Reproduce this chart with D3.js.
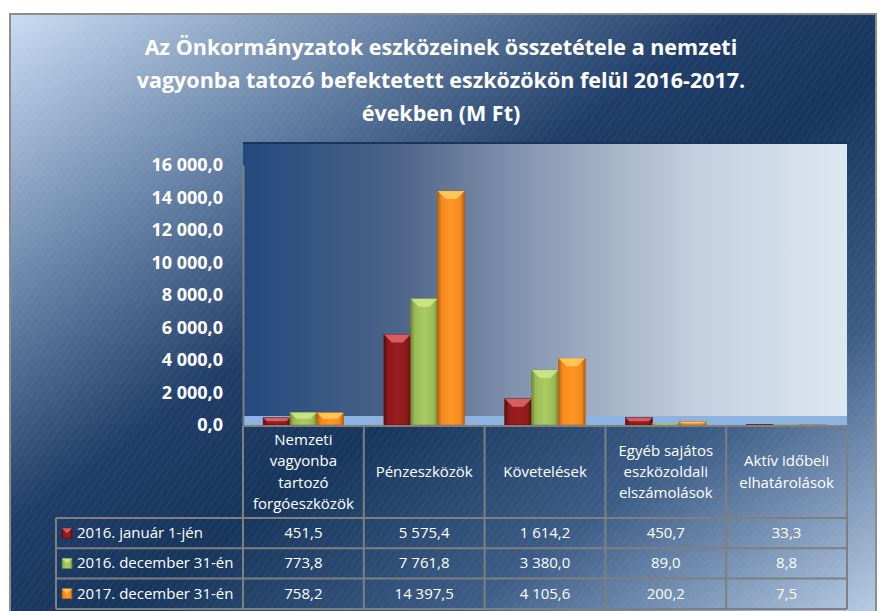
<!DOCTYPE html>
<html>
<head>
<meta charset="utf-8">
<script src="https://cdn.jsdelivr.net/npm/d3@7"></script>
<style>
  body { margin: 0; background: #fff; }
  svg { display: block; font-family: "Open Sans", Lato, sans-serif; }
</style>
</head>
<body>
<div id="chart"></div>
<script>
// data
const categories = [
    ['Nemzeti', 'vagyonba', 'tartozó', 'forgóeszközök'],
    ['Pénzeszközök'],
    ['Követelések'],
    ['Egyéb sajátos', 'eszközoldali', 'elszámolások'],
    ['Aktív időbeli', 'elhatárolások']
]
const seriesNames = ['2016. január 1-jén', '2016. december 31-én', '2017. december 31-én']
const jan2016 = [451.5, 5575.4, 1614.2, 450.7, 33.3]
const dec2016 = [773.8, 7761.8, 3380.0, 89.0, 8.8]
const dec2017 = [758.2, 14397.5, 4105.6, 200.2, 7.5]
const yTicks = [0, 2000, 4000, 6000, 8000, 10000, 12000, 14000, 16000]
const titleLines = [
    'Az Önkormányzatok eszközeinek összetétele a nemzeti',
    'vagyonba tatozó befektetett eszközökön felül 2016-2017.',
    'években (M Ft)'
]

const series = [jan2016, dec2016, dec2017]
const colors = [
    { base: '#8e1b1b', dark: '#5e0c0c', light: '#e06a72' },
    { base: '#9bbb59', dark: '#6f8b35', light: '#cfe889' },
    { base: '#f58a1f', dark: '#b85e0c', light: '#ffd060' }
]

const W = 880, H = 611
const plot = { left: 243, right: 847, top: 143, floor: 416, base: 425 }
const table = { left: 56, headTop: 426, headBottom: 518, rowH: 30.3 }

const fmt = v => {
    let s = d3.format(',.1f')(v)
    return s.replace(/,/g, ' ').replace('.', ',')
}

const svg = d3.select('#chart').append('svg')
    .attr('width', W)
    .attr('height', H)

const defs = svg.append('defs')

// chart background gradient
let bg = defs.append('linearGradient').attr('id', 'bg')
    .attr('x1', 0).attr('y1', 0).attr('x2', 1).attr('y2', 1)
bg.selectAll('stop')
    .data([[0, '#c9dcf3'], [0.22, '#6d88ab'], [0.42, '#1f3d68'], [0.55, '#17365d'], [0.75, '#3d5d87'], [1, '#bcd0e8']])
    .join('stop')
    .attr('offset', d => d[0])
    .attr('stop-color', d => d[1])

// fine diagonal stripes
let pat = defs.append('pattern').attr('id', 'stripes')
    .attr('width', 6).attr('height', 6)
    .attr('patternUnits', 'userSpaceOnUse')
    .attr('patternTransform', 'rotate(35)')
pat.append('line')
    .attr('x1', 0).attr('y1', 0).attr('x2', 0).attr('y2', 6)
    .attr('stroke', '#ffffff').attr('stroke-opacity', 0.05).attr('stroke-width', 2)

// plot area gradient (dark left -> light right)
let pg = defs.append('linearGradient').attr('id', 'plotbg')
    .attr('x1', 0).attr('y1', 0).attr('x2', 1).attr('y2', 0)
pg.selectAll('stop')
    .data([[0, '#234a7e'], [0.25, '#4b6388'], [0.5, '#8d9db6'], [0.75, '#c4d0df'], [1, '#dde7f2']])
    .join('stop')
    .attr('offset', d => d[0])
    .attr('stop-color', d => d[1])

// bar gradients
colors.forEach((c, i) => {
    let g = defs.append('linearGradient').attr('id', 'bar' + i)
        .attr('x1', 0).attr('y1', 0).attr('x2', 1).attr('y2', 0)
    g.append('stop').attr('offset', 0).attr('stop-color', c.dark)
    g.append('stop').attr('offset', 0.15).attr('stop-color', c.base)
    g.append('stop').attr('offset', 0.5).attr('stop-color', d3.color(c.base).brighter(0.25))
    g.append('stop').attr('offset', 0.85).attr('stop-color', c.base)
    g.append('stop').attr('offset', 1).attr('stop-color', c.dark)
})

svg.append('rect')
    .attr('x', 10).attr('y', 14)
    .attr('width', 866).attr('height', 610)
    .attr('fill', 'url(#bg)')
    .attr('stroke', '#8c8c8c').attr('stroke-width', 2)
svg.append('rect')
    .attr('x', 10).attr('y', 14)
    .attr('width', 866).attr('height', 610)
    .attr('fill', 'url(#stripes)')

// title
svg.append('g').selectAll('text')
    .data(titleLines)
    .join('text')
    .attr('x', 441)
    .attr('y', (d, i) => 55 + i * 33)
    .attr('text-anchor', 'middle')
    .attr('fill', '#fff')
    .attr('font-size', 21.5)
    .attr('font-weight', 'bold')
    .text(d => d)

// scales
const x = d3.scaleBand()
    .domain(d3.range(categories.length))
    .range([plot.left, plot.right])
const barW = x.bandwidth() / 4.5
const xs = d3.scaleBand()
    .domain(d3.range(series.length))
    .range([barW * 0.75, x.bandwidth() - barW * 0.75])
const y = d3.scaleLinear()
    .domain([0, 16000])
    .range([plot.base, 165])

// plot area
svg.append('rect')
    .attr('x', plot.left).attr('y', plot.top)
    .attr('width', plot.right - plot.left).attr('height', plot.floor - plot.top)
    .attr('fill', 'url(#plotbg)')
svg.append('line')
    .attr('x1', plot.left).attr('x2', plot.right)
    .attr('y1', plot.top).attr('y2', plot.top)
    .attr('stroke', '#17365d').attr('stroke-width', 2)
svg.append('rect')
    .attr('x', plot.left).attr('y', plot.floor)
    .attr('width', plot.right - plot.left).attr('height', plot.base - plot.floor)
    .attr('fill', '#8db3e2')

// y axis
const yAxis = d3.axisLeft(y)
    .tickValues(yTicks)
    .tickSize(0)
    .tickPadding(20)
    .tickFormat(fmt)
let ya = svg.append('g')
    .attr('transform', `translate(${plot.left},0)`)
    .call(yAxis)
ya.select('.domain').attr('stroke', '#808080').attr('stroke-width', 2)
ya.selectAll('text')
    .attr('fill', '#fff')
    .attr('font-size', 18)
    .attr('font-weight', 'bold')
    .attr('font-family', '"Open Sans", sans-serif')

// bars with bevel
const barsG = svg.append('g')
series.forEach((vals, si) => {
    let c = colors[si]
    let g = barsG.append('g')
    vals.forEach((v, ci) => {
        let bx = x(ci) + xs(si)
        let w = xs.bandwidth()
        let top = y(v)
        let h = plot.base - top
        if (h <= 0) return
        g.append('rect')
            .attr('x', bx).attr('y', top)
            .attr('width', w).attr('height', h)
            .attr('fill', `url(#bar${si})`)
            .attr('stroke', c.dark).attr('stroke-width', 0.6)
        let b = Math.min(8, h / 2, w / 2)
        g.append('path')
            .attr('d', `M${bx},${top}L${bx + w},${top}L${bx + w - b},${top + b}L${bx + b},${top + b}Z`)
            .attr('fill', c.light)
            .attr('opacity', 0.85)
    })
})

// table
const tg = svg.append('g')
const lineColor = '#7f7f7f'
const rowsTop = table.headBottom
const tableBottom = rowsTop + table.rowH * 3

// horizontal lines
tg.append('line')
    .attr('x1', plot.left).attr('x2', plot.right)
    .attr('y1', table.headTop).attr('y2', table.headTop)
    .attr('stroke', lineColor).attr('stroke-width', 2)
d3.range(4).forEach(r => {
    tg.append('line')
        .attr('x1', table.left).attr('x2', plot.right)
        .attr('y1', rowsTop + r * table.rowH).attr('y2', rowsTop + r * table.rowH)
        .attr('stroke', lineColor).attr('stroke-width', 2)
})
// vertical lines
tg.append('line')
    .attr('x1', table.left).attr('x2', table.left)
    .attr('y1', rowsTop).attr('y2', tableBottom)
    .attr('stroke', lineColor).attr('stroke-width', 2)
d3.range(categories.length + 1).forEach(i => {
    let xx = i < categories.length ? x(i) : plot.right
    tg.append('line')
        .attr('x1', xx).attr('x2', xx)
        .attr('y1', table.headTop).attr('y2', tableBottom)
        .attr('stroke', lineColor).attr('stroke-width', 2)
})

// header text
const headMid = (table.headTop + table.headBottom) / 2
categories.forEach((lines, ci) => {
    let t = tg.append('text')
        .attr('text-anchor', 'middle')
        .attr('fill', '#fff')
        .attr('font-size', 15)
    lines.forEach((l, li) => {
        t.append('tspan')
            .attr('x', x(ci) + x.bandwidth() / 2)
            .attr('y', headMid + 5 + (li - (lines.length - 1) / 2) * 21.3)
            .text(l)
    })
})

// data rows
series.forEach((vals, si) => {
    let cy = rowsTop + table.rowH * (si + 0.5) + 5
    vals.forEach((v, ci) => {
        tg.append('text')
            .attr('x', x(ci) + x.bandwidth() / 2)
            .attr('y', cy)
            .attr('text-anchor', 'middle')
            .attr('fill', '#fff')
            .attr('font-size', 15)
            .text(fmt(v))
    })
    // legend key
    let c = colors[si]
    tg.append('rect')
        .attr('x', 62).attr('y', cy - 10)
        .attr('width', 10).attr('height', 10)
        .attr('fill', `url(#bar${si})`)
        .attr('stroke', c.dark).attr('stroke-width', 0.6)
    tg.append('path')
        .attr('d', `M62,${cy - 10}L72,${cy - 10}L67,${cy - 5}Z`)
        .attr('fill', c.light).attr('opacity', 0.85)
    tg.append('text')
        .attr('x', 77)
        .attr('y', cy)
        .attr('fill', '#fff')
        .attr('font-size', 15)
        .text(seriesNames[si])
})
</script>
</body>
</html>
